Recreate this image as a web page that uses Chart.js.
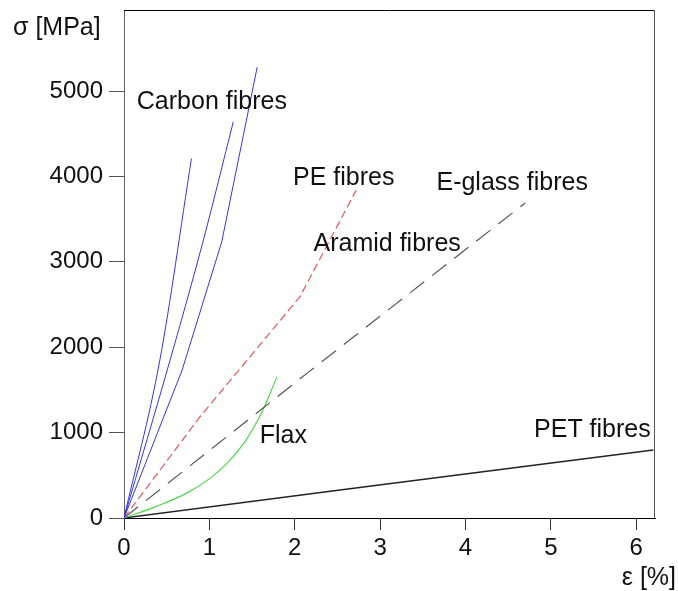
<!DOCTYPE html>
<html>
<head>
<meta charset="utf-8">
<script src="https://cdn.jsdelivr.net/npm/chart.js@4.4.0/dist/chart.umd.min.js"></script>
<style>
  body { margin: 0; background: #fff; }
</style>
</head>
<body>
<canvas id="chartjs-0" width="678" height="591"></canvas>
<script>
"use strict";

// strain [%] / stress [MPa]
let carbon1 = [[0, 0], [0.42, 1850], [0.79, 4210]];
let carbon2 = [[0, 0], [0.54, 1850], [0.93, 3255], [1.28, 4640]];
let carbon3 = [[0, 0], [0.68, 1730], [1.145, 3235], [1.56, 5280]];
let pe = [[0, 0], [0.89, 1186], [2.06, 2590], [2.72, 3840]];
let eglass = [[0, 0], [2.15, 1700], [4.70, 3690]];
let flax = [[0, 0], [0.35, 125], [0.75, 300], [1.1, 540], [1.4, 870], [1.62, 1250], [1.79, 1650]];
let pet = [[0, 0], [2.53, 328], [6.20, 796]];

let xTicks = [0, 1, 2, 3, 4, 5, 6];
let yTicks = [0, 1000, 2000, 3000, 4000, 5000];

let labelText = ["Carbon fibres", "PE fibres", "Aramid fibres", "E-glass fibres", "Flax", "PET fibres"];
let labelX = [0.15, 1.98, 2.22, 3.66, 1.59, 6.17];
let labelY = [4875, 3978, 3212, 3926, 960, 1030];
let labelAlign = ["left", "left", "left", "left", "left", "right"];

function pts(arr) {
    return arr.map(function (p) { return { x: p[0], y: p[1] }; });
}

function line(data, color, dash, width, smooth) {
    return {
        data: pts(data),
        showLine: true,
        borderColor: color,
        borderWidth: width,
        borderDash: dash,
        pointRadius: 0,
        fill: false,
        cubicInterpolationMode: smooth ? "monotone" : "default",
        tension: 0
    };
}

let txtFont = "25px 'Liberation Sans', Arial, sans-serif";

let labelsPlugin = {
    id: "labels",
    afterDraw: function (chart) {
        let ctx = chart.ctx;
        let a = chart.chartArea;
        let xs = chart.scales.x;
        let ys = chart.scales.y;
        ctx.save();
        // top + right frame
        ctx.lineWidth = 1;
        ctx.strokeStyle = "#000";
        ctx.beginPath();
        ctx.moveTo(a.left, a.top + 0.5);
        ctx.lineTo(a.right, a.top + 0.5);
        ctx.stroke();
        ctx.strokeStyle = "#555";
        ctx.beginPath();
        ctx.moveTo(a.right - 0.5, a.top);
        ctx.lineTo(a.right - 0.5, a.bottom);
        ctx.stroke();

        ctx.fillStyle = "#111";
        ctx.font = txtFont;
        ctx.textBaseline = "middle";
        for (let i = 0; i < labelText.length; i++) {
            ctx.textAlign = labelAlign[i];
            ctx.fillText(labelText[i], xs.getPixelForValue(labelX[i]), ys.getPixelForValue(labelY[i]));
        }
        // axis titles
        ctx.textAlign = "left";
        ctx.fillText("\u03c3 [MPa]", 13, 28);
        ctx.textAlign = "right";
        ctx.fillText("\u03b5 [%]", 676, 578);
        ctx.restore();
    }
};

function noPad(s) {
    s.paddingTop = 0;
    s.paddingBottom = 0;
    s.paddingLeft = 0;
    s.paddingRight = 0;
}

let ctx = document.getElementById("chartjs-0");
let myChart = new Chart(ctx, {
    type: "scatter",
    data: {
        datasets: [
            line(carbon1, "#3535e8", [], 1, true),
            line(carbon2, "#3535e8", [], 1, true),
            line(carbon3, "#3535e8", [], 1, false),
            line(pe, "#e05a5a", [8, 4], 1.2, false),
            line(eglass, "#555555", [18, 10], 1.2, false),
            line(flax, "#4fd84f", [], 1.2, true),
            line(pet, "#222222", [], 1.4, false)
        ]
    },
    options: {
        responsive: false,
        animation: false,
        layout: { padding: { top: 10, right: 23, left: 0, bottom: 0 } },
        plugins: {
            legend: { display: false },
            tooltip: { enabled: false }
        },
        scales: {
            x: {
                type: "linear",
                min: 0,
                max: 6.22,
                afterBuildTicks: function (s) { s.ticks = xTicks.map(function (v) { return { value: v }; }); },
                afterFit: function (s) { s.height = 73; noPad(s); },
                ticks: {
                    color: "#111",
                    padding: 4,
                    maxRotation: 0,
                    font: { family: "'Liberation Sans', Arial, sans-serif", size: 24 },
                    callback: function (v) { return String(v); }
                },
                grid: { drawOnChartArea: false, drawTicks: true, tickLength: 12, color: "#333" },
                border: { color: "#000", width: 1 }
            },
            y: {
                type: "linear",
                min: 0,
                max: 5950,
                afterBuildTicks: function (s) { s.ticks = yTicks.map(function (v) { return { value: v }; }); },
                afterFit: function (s) { s.width = 124; noPad(s); },
                ticks: {
                    color: "#111",
                    padding: 6,
                    font: { family: "'Liberation Sans', Arial, sans-serif", size: 24 },
                    callback: function (v) { return String(v); }
                },
                grid: { drawOnChartArea: false, drawTicks: true, tickLength: 15, color: "#555" },
                border: { color: "#666", width: 1 }
            }
        }
    },
    plugins: [labelsPlugin]
});
</script>
</body>
</html>
